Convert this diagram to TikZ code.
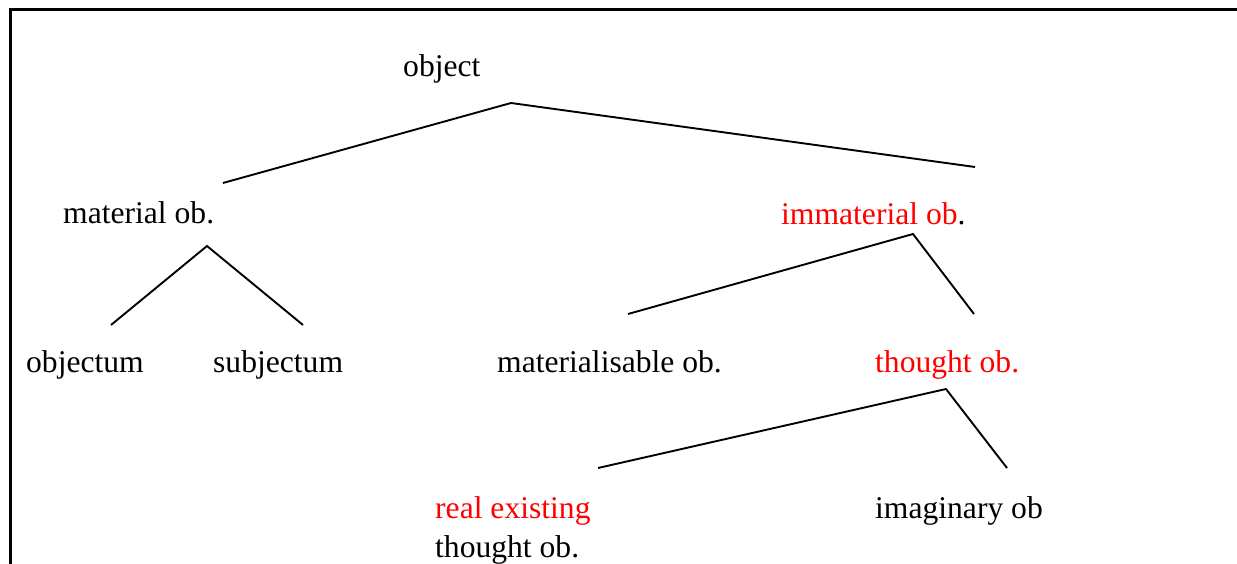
\documentclass[tikz,border=0pt]{standalone}
\usepackage{fontspec}
\setmainfont{Liberation Serif}
\definecolor{hl}{RGB}{255,0,0}
\begin{document}
\begin{tikzpicture}[x=1pt,y=-1pt,
  lbl/.style={anchor=base west,inner sep=0pt,font=\fontsize{31.6}{39}\selectfont},
  branch/.style={draw=black,line width=1.9pt},
  frame/.style={draw=black,line width=2.6pt}]
\useasboundingbox (0,0) rectangle (1237,564);
% frame
\draw[frame] (10.3,564) -- (10.3,9.3) -- (1237,9.3);
% labels
\node[lbl] (obj) at (403,77) {object};
\node[lbl] (mat) at (63,224) {material ob.};
\node[lbl] (imm) at (781,225) {\textcolor{hl}{immaterial ob}.};
\node[lbl] (objm) at (26,372) {objectum};
\node[lbl] (subj) at (213,372) {subjectum};
\node[lbl] (matl) at (497,372) {materialisable ob.};
\node[lbl,text=hl] (tho) at (875,372) {thought ob.};
\node[lbl,align=left] (real) at (435,557) {\textcolor{hl}{real existing}\\thought ob.};
\node[lbl] (imag) at (875,518) {imaginary ob};
% connector ends
\coordinate (objTop) at (511,103);
\coordinate (matTop) at (223,183);
\coordinate (immTop) at (975,167);
\coordinate (matApex) at (207,246);
\coordinate (objmTop) at (111,325);
\coordinate (subjTop) at (303,325);
\coordinate (immApex) at (913,234);
\coordinate (matlTop) at (628,314);
\coordinate (thoTop) at (974,314);
\coordinate (thoApex) at (946,389);
\coordinate (realTop) at (598,468);
\coordinate (imagTop) at (1007,468);
% connectors
\draw[branch] (matTop) -- (objTop) -- (immTop);
\draw[branch] (objmTop) -- (matApex) -- (subjTop);
\draw[branch] (matlTop) -- (immApex) -- (thoTop);
\draw[branch] (realTop) -- (thoApex) -- (imagTop);
\end{tikzpicture}
\end{document}
